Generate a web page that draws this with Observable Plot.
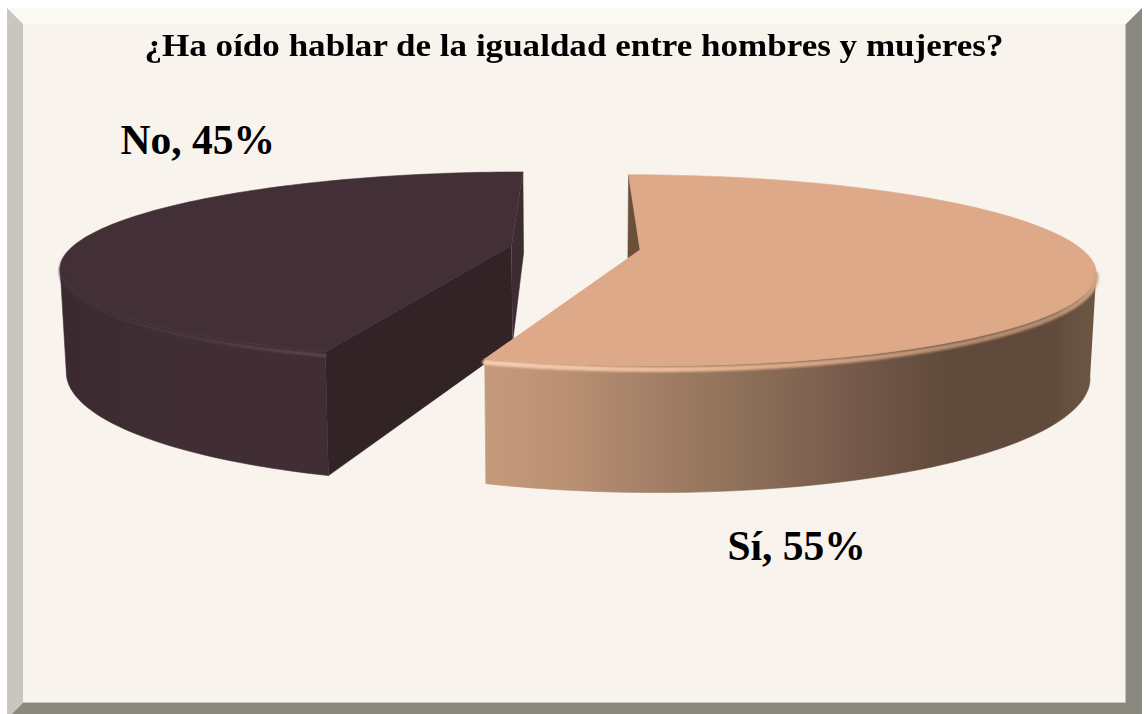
<!DOCTYPE html>
<html lang="es">
<head>
<meta charset="utf-8">
<script src="https://cdn.jsdelivr.net/npm/d3@7"></script>
<script src="https://cdn.jsdelivr.net/npm/@observablehq/plot@0.6"></script>
<style>
html,body{margin:0;padding:0;background:#fff;overflow:hidden;width:1147px;height:714px}
#frame{position:absolute;left:7px;top:8px;width:1103px;height:679px;background:#f8f3ed;border-style:solid;border-width:16px 16px 16px 16px;border-color:#fcfaf5 #8b8880 #8b8880 #c9c6be;box-shadow:inset -1px -1px 0 #c8c5bd}
#chart{position:absolute;left:0;top:0}
#title{position:absolute;left:0;top:26.5px;width:1148px;margin:0;text-align:center;font:bold 32px "Liberation Serif",serif;color:#000;white-space:nowrap;transform:scaleX(1.095);transform-origin:574px 0}
</style>
</head>
<body>
<div id="frame"></div>
<h1 id="title">¿Ha oído hablar de la igualdad entre hombres y mujeres?</h1>
<div id="chart"></div>
<script>
// Chart values
const categories = ["Sí", "No"];
const shares = [55, 45];

// View geometry of the tilted, exploded pie
const view = {vx: 575, horizon: -172, ground: 419, k: 0.215, R: 440, depth: 99, bottomScale: 0.988, burst: 65};

const total = d3.sum(shares);
const slices = [];
let acc = 0;
categories.forEach((name, i) => {
  const a0 = acc / total * 2 * Math.PI;
  acc += shares[i];
  slices.push({name, share: shares[i], a0, a1: acc / total * 2 * Math.PI});
});

function project(s, a, r, level) {
  const mid = (s.a0 + s.a1) / 2;
  const X = Math.sin(mid) * view.burst + r * view.R * Math.sin(a);
  const Z = (Math.cos(mid) * view.burst + r * view.R * Math.cos(a)) / view.R;
  const p = 1 / (1 + view.k * Z);
  return {
    x: view.vx + X * p * (1 - (1 - view.bottomScale) * Math.min(level, 1)),
    y: view.horizon + (view.ground + level * view.depth) * p
  };
}
function arc(s, a0, a1, level) {
  return d3.range(0, 121).map(i => project(s, a0 + (a1 - a0) * i / 120, 1, level));
}
const poly = (pts, fill) => Plot.line(pts, {x: "x", y: "y", fill, stroke: fill, strokeWidth: 0.6});

function gradient(defs, id, stops, x1, x2) {
  const g = defs.append("linearGradient").attr("id", id).attr("gradientUnits", "userSpaceOnUse")
    .attr("x1", x1).attr("x2", x2).attr("y1", 0).attr("y2", 0);
  stops.forEach(([o, c]) => g.append("stop").attr("offset", o).attr("stop-color", c));
}
const gradients = () => {
  const svg = d3.create("svg:g");
  const defs = svg.append("defs");
  gradient(defs, "siSide", [[0,"#c59a7c"],[0.12,"#bb9174"],[0.25,"#a68268"],[0.42,"#8e7059"],[0.6,"#76594a"],[0.76,"#5f4a3b"],[0.92,"#5f4a3b"],[1,"#6e5643"]], 487, 1096);
  gradient(defs, "siRim", [[0,"#f6cfb2"],[0.3,"#eebd9b"],[0.55,"#d6a484"],[0.78,"#b48c6f"],[0.93,"#b48e70"],[1,"#d0a585"]], 487, 1096);
  gradient(defs, "noSide", [[0,"#3a2a30"],[0.4,"#402e34"],[1,"#412e34"]], 58, 330);
  gradient(defs, "noRim", [[0,"#43303a"],[0.55,"#55404a"],[1,"#6d545b"]], 58, 330);
  return svg.node();
};

const [si, no] = slices;
function faces(s, pick, sideFill, topFill, rimStroke, rimWidth, rimRange) {
  const rimTop = arc(s, s.a0, s.a1, 0);
  const rimBottom = arc(s, s.a0, s.a1, 1);
  const center = l => project(s, 0, 0, l);
  const at = (a, l) => project(s, a, 1, l);
  // only the part of the wall in front of the widest point is seen
  const e = pick(rimTop);
  const front = s.a1 > Math.PI * 1.5 ? [0, e + 1] : [e, rimTop.length];
  return {
    wallStart: f => poly([center(0), at(s.a0, 0), at(s.a0, 1), center(1)], f),
    wallEnd: f => poly([center(0), at(s.a1, 0), at(s.a1, 1), center(1)], f),
    side: poly([...rimTop.slice(...front), ...rimBottom.slice(...front).reverse()], sideFill),
    top: poly([center(0), ...rimTop], topFill),
    rim: Plot.line(arc(s, rimRange[0], rimRange[1], 0.03), {x: "x", y: "y", stroke: rimStroke, strokeWidth: rimWidth, imageFilter: "blur(1px)"})
  };
}
const noF = faces(no, pts => d3.leastIndex(pts, (a, b) => a.x - b.x), "url(#noSide)", "#432f36", "url(#noRim)", 2, [no.a0, no.a0 + 1.2]);
const siF = faces(si, pts => d3.greatestIndex(pts, d => d.x), "url(#siSide)", "#dea988", "url(#siRim)", 5, [si.a0 + 1.8, si.a1]);

const labelLayout = {"No": {x: 120, y: 154}, "Sí": {x: 727, y: 560}};
const labels = slices.map(s => ({text: `${s.name}, ${s.share}%`, ...labelLayout[s.name]}));

const chart = Plot.plot({
  width: 1147, height: 714, margin: 0,
  x: {domain: [0, 1147], range: [0, 1147], axis: null},
  y: {domain: [0, 714], range: [0, 714], axis: null},
  style: {background: "transparent"},
  marks: [
    gradients,
    noF.wallEnd("#3e2c33"), noF.side, noF.wallStart("#322426"), noF.top, noF.rim,
    siF.wallStart("#6b5039"), siF.side, siF.top, siF.rim,
    Plot.text(labels, {x: "x", y: "y", text: "text", textAnchor: "start", lineAnchor: "bottom", fontSize: 41.5, fontWeight: "bold", fontFamily: "Liberation Serif", fill: "#000", dy: -1})
  ]
});
document.getElementById("chart").append(chart);
</script>
</body>
</html>
